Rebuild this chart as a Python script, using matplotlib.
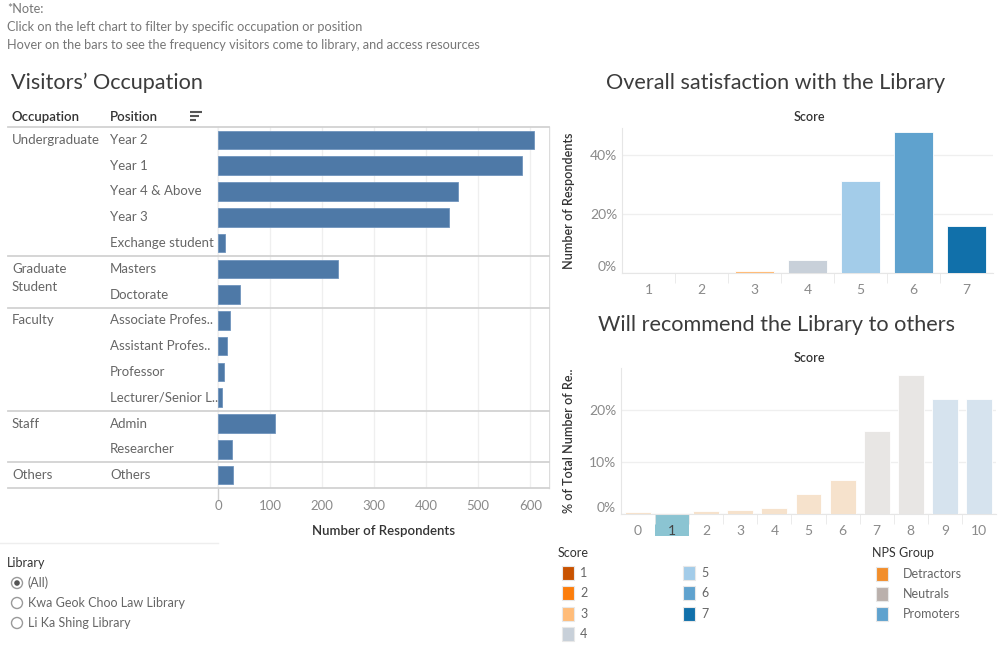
import matplotlib.pyplot as plt
from matplotlib.patches import Rectangle, Circle
from matplotlib.transforms import blended_transform_factory

plt.rcParams['font.family'] = ['Lato', 'DejaVu Sans']

W, H = 1000, 653

# ---- data ----
occupations = ['Undergraduate', 'Graduate\nStudent', 'Faculty', 'Staff', 'Others']
group_sizes = [5, 2, 4, 2, 1]
positions = ['Year 2', 'Year 1', 'Year 4 & Above', 'Year 3', 'Exchange student',
             'Masters', 'Doctorate',
             'Associate Profes..', 'Assistant Profes..', 'Professor', 'Lecturer/Senior L..',
             'Admin', 'Researcher', 'Others']
respondents = [608, 584, 461, 443, 14, 230, 43, 23, 18, 12, 7, 109, 26, 29]

sat_scores = [1, 2, 3, 4, 5, 6, 7]
sat_share = [0.0, 0.0, 0.8, 4.5, 31.0, 47.5, 16.0]   # % of respondents
score_colors = ['#c85200', '#fc7d0b', '#ffbc79', '#c8d0d9', '#a3cce9', '#5fa2ce', '#1170aa']

rec_scores = list(range(11))
rec_share = [0.3, 0.0, 0.5, 0.8, 1.2, 3.9, 6.6, 15.9, 26.7, 22.1, 22.1]
rec_group = ['Detractors'] * 7 + ['Neutrals'] * 2 + ['Promoters'] * 2
nps_groups = ['Detractors', 'Neutrals', 'Promoters']
nps_colors = {'Detractors': '#f28e2b', 'Neutrals': '#bab0ac', 'Promoters': '#5fa2ce'}
nps_faded = {'Detractors': '#f6e2cc', 'Neutrals': '#e8e6e4', 'Promoters': '#d6e3ee'}
highlight_score = 1

libraries = ['(All)', 'Kwa Geok Choo Law Library', 'Li Ka Shing Library']

DARK = '#333333'
GRAY = '#777777'
TICK = '#8a8a8a'
GRID = '#efefef'
SEP = '#d2d2d2'

fig = plt.figure(figsize=(W / 100, H / 100), dpi=100)

# overlay in pixel coordinates for decorations
bg = fig.add_axes([0, 0, 1, 1])
bg.set_xlim(0, W)
bg.set_ylim(H, 0)
bg.axis('off')


def ax_at(x0, y0, x1, y1):
    return fig.add_axes([x0 / W, 1 - y1 / H, (x1 - x0) / W, (y1 - y0) / H])


# ---- notes ----
bg.text(7, 9, '*Note:', fontsize=9.2, color=GRAY, va='center')
bg.text(7, 27, 'Click on the left chart to filter by specific occupation or position',
        fontsize=9.2, color=GRAY, va='center')
bg.text(7, 45, 'Hover on the bars to see the frequency visitors come to library, and access resources',
        fontsize=9.2, color=GRAY, va='center')

# ---- left chart: visitors' occupation ----
TITLE = dict(fontsize=15.6, color='#3c3c3c', va='center')
bg.text(11, 83, 'Visitors\u2019 Occupation', **TITLE)
bg.text(12, 117, 'Occupation', fontsize=9.5, color=DARK, weight='semibold', va='center')
bg.text(110, 117, 'Position', fontsize=9.5, color=DARK, weight='semibold', va='center')
for i, ln in enumerate([12, 9, 6]):
    bg.plot([190, 190 + ln], [112 + i * 4, 112 + i * 4], color='#555555', lw=1.5,
            solid_capstyle='butt')

ax1 = ax_at(218, 127, 549, 488)
rows = list(range(len(positions)))
ax1.barh(rows, respondents, height=0.72, color='#4e79a7', edgecolor='#7094bd', lw=0.6,
         zorder=3)
ax1.set_ylim(len(positions) - 0.5, -0.5)
ax1.set_xlim(0, 636)
ax1.set_xticks(range(0, 700, 100))
ax1.set_yticks([])
ax1.grid(axis='x', color=GRID, lw=0.9, zorder=0)
ax1.tick_params(axis='x', length=0, pad=9, labelsize=9.5, labelcolor=TICK)
for s in ax1.spines.values():
    s.set_visible(False)
ax1.set_xlabel('Number of Respondents', fontsize=9.5, color=DARK, weight='semibold',
               labelpad=9)

tr = blended_transform_factory(bg.transData, ax1.transData)
for r, p in zip(rows, positions):
    ax1.text(110, r, p, transform=tr, fontsize=9.5, color='#666666', va='center')
start = 0
bounds = [-0.5]
for occ, n in zip(occupations, group_sizes):
    for j, line in enumerate(occ.split('\n')):
        ax1.text(12, start + j * 0.7, line, transform=tr, fontsize=9.5, color='#666666',
                 va='center')
    start += n
    bounds.append(start - 0.5)
for b in bounds:
    ax1.plot([8, 549], [b, b], transform=tr, color=SEP, lw=1.3, clip_on=False, zorder=4)
bg.plot([218, 218], [127, 500], color='#cfcfcf', lw=1)
bg.plot([549, 549], [127, 488], color='#dcdcdc', lw=1)

# ---- top right: overall satisfaction ----
bg.text(776, 83, 'Overall satisfaction with the Library', ha='center', **TITLE)
bg.text(809, 117, 'Score', fontsize=9, color=DARK, weight='semibold', ha='center',
        va='center')

ax2 = ax_at(622, 128, 993, 273)
ax2.bar(sat_scores, [v / 100 for v in sat_share], width=0.75, color=score_colors,
        edgecolor='white', lw=0.6, zorder=3)
ax2.set_xlim(0.5, 7.5)
ax2.set_ylim(0, 0.49)
ax2.set_xticks(sat_scores)
ax2.set_xticks([s + 0.5 for s in sat_scores[:-1]], minor=True)
ax2.set_yticks([0, 0.2, 0.4])
ax2.set_yticklabels(['0%', '20%', '40%'])
ax2.get_yticklabels()[0].set_va('bottom')
ax2.grid(axis='y', color=GRID, lw=0.9, zorder=0)
ax2.tick_params(axis='both', which='major', length=0, labelsize=10, labelcolor=TICK)
ax2.tick_params(axis='x', which='major', pad=8)
ax2.tick_params(axis='x', which='minor', length=7, color='#e8e8e8', direction='out')
for k in ['top', 'right']:
    ax2.spines[k].set_visible(False)
ax2.spines['left'].set_color('#e6e6e6')
ax2.spines['bottom'].set_color('#e6e6e6')
ax2.set_ylabel('Number of Respondents', fontsize=9, color=DARK, weight='semibold')
ax2.yaxis.set_label_coords((575 - 622) / 371, 0.5)

# ---- bottom right: recommend ----
bg.text(776, 325, 'Will recommend the Library to others', ha='center', **TITLE)
bg.text(809, 358, 'Score', fontsize=9, color=DARK, weight='semibold', ha='center',
        va='center')

ax3 = ax_at(621, 368, 996, 514)
ax3.bar(rec_scores, [v / 100 for v in rec_share], width=0.76,
        color=[nps_faded[g] for g in rec_group], edgecolor='white', lw=0.6, zorder=3)
ax3.set_xlim(-0.5, 10.5)
ax3.set_ylim(0, 0.281)
ax3.set_xticks(rec_scores)
ax3.set_xticks([s + 0.5 for s in rec_scores[:-1]], minor=True)
ax3.set_yticks([0, 0.1, 0.2])
ax3.set_yticklabels(['0%', '10%', '20%'])
ax3.get_yticklabels()[0].set_va('bottom')
ax3.grid(axis='y', color=GRID, lw=0.9, zorder=0)
ax3.tick_params(axis='both', which='major', length=0, labelsize=10, labelcolor=TICK)
ax3.tick_params(axis='x', which='major', pad=8)
ax3.tick_params(axis='x', which='minor', length=7, color='#e8e8e8', direction='out')
for k in ['top', 'right']:
    ax3.spines[k].set_visible(False)
ax3.spines['left'].set_color('#e6e6e6')
ax3.spines['bottom'].set_color('#e6e6e6')
ax3.set_ylabel('% of Total Number of Re..', fontsize=9, color=DARK, weight='semibold')
ax3.yaxis.set_label_coords((575 - 621) / 375, 0.5)
tr3 = blended_transform_factory(ax3.transData, ax3.transAxes)
ax3.add_patch(Rectangle((highlight_score - 0.5, -22 / 146), 1, 21 / 146, transform=tr3,
                        facecolor='#8bc4d2', edgecolor='none', clip_on=False, zorder=1))
ax3.get_xticklabels()[highlight_score].set_color('#444444')

# ---- filter: library ----
bg.plot([0, 218], [543, 543], color='#eeeeee', lw=1)
bg.text(7, 563, 'Library', fontsize=9, color=DARK, va='center')
for i, lib in enumerate(libraries):
    y = 583 + i * 20
    bg.add_patch(Circle((17, y), 5.5, facecolor='white', edgecolor='#9a9a9a', lw=1))
    if i == 0:
        bg.add_patch(Circle((17, y), 2.8, facecolor='#555555', edgecolor='none'))
    bg.text(28, y, lib, fontsize=9, color='#666666', va='center')

# ---- legends ----
bg.text(558, 553, 'Score', fontsize=9, color=DARK, va='center')
for i, (s, c) in enumerate(zip(sat_scores, score_colors)):
    col, row = divmod(i, 4)
    x = 562 + col * 121
    y = 573 + row * 20.3
    bg.add_patch(Rectangle((x, y - 7), 12, 14, facecolor=c, edgecolor='#e8e8e8', lw=0.8))
    bg.text(x + 18, y, str(s), fontsize=9, color='#666666', va='center')

bg.text(872, 553, 'NPS Group', fontsize=9, color=DARK, va='center')
for i, g in enumerate(nps_groups):
    y = 574 + i * 20
    bg.add_patch(Rectangle((876, y - 7), 12, 14, facecolor=nps_colors[g], edgecolor='#e8e8e8',
                           lw=0.8))
    bg.text(903, y, g, fontsize=9, color='#666666', va='center')

fig.savefig('out.png', dpi=100)
